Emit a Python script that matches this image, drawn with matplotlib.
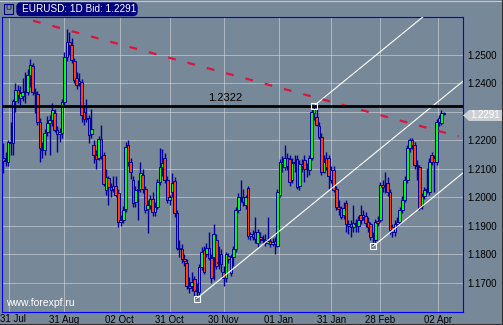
import numpy as np
import pandas as pd
import matplotlib
matplotlib.use("Agg")
import matplotlib.pyplot as plt
from matplotlib.patches import Polygon, Rectangle, FancyBboxPatch
from matplotlib.lines import Line2D

# daily EURUSD bars
opens = [1.2140, 1.2127, 1.2125, 1.2195, 1.2190, 1.2340, 1.2378, 1.2350, 1.2355, 1.2370,
         1.2371, 1.2430, 1.2460, 1.2370, 1.2362, 1.2265, 1.2170, 1.2168, 1.2230, 1.2262,
         1.2270, 1.2295, 1.2237, 1.2222, 1.2225, 1.2336, 1.2494, 1.2545, 1.2535, 1.2478,
         1.2418, 1.2403, 1.2406, 1.2300, 1.2275, 1.2280, 1.2222, 1.2185, 1.2150, 1.2140,
         1.2205, 1.2150, 1.2025, 1.2068, 1.2035, 1.2030, 1.2040, 1.2015, 1.1915, 1.1922,
         1.1960, 1.2185, 1.2125, 1.2062, 1.1985, 1.2025, 1.2030, 1.2080, 1.2030, 1.1960,
         1.1975, 1.1995, 1.1950, 1.1965, 1.2055, 1.2108, 1.2140, 1.2062, 1.1992, 1.2020,
         1.2058, 1.1946, 1.1824, 1.1820, 1.1785, 1.1770, 1.1690, 1.1690, 1.1715, 1.1670,
         1.1668, 1.1757, 1.1815, 1.1800, 1.1824, 1.1789, 1.1790, 1.1850, 1.1775, 1.1800,
         1.1740, 1.1718, 1.1795, 1.1735, 1.1790, 1.1820, 1.1957, 1.2003, 1.2000, 1.1975,
         1.2034, 1.1863, 1.1870, 1.1880, 1.1840, 1.1860, 1.1855, 1.1850, 1.1840, 1.1848,
         1.1838, 1.1848, 1.1830, 1.2010, 1.2125, 1.2105, 1.2140, 1.2135, 1.2060, 1.2120,
         1.2135, 1.2040, 1.2118, 1.2130, 1.2098, 1.2095, 1.2140, 1.2295, 1.2283, 1.2250,
         1.2213, 1.2090, 1.2140, 1.2140, 1.2062, 1.2097, 1.2030, 1.1967, 1.1962, 1.1940,
         1.1980, 1.1905, 1.1908, 1.1895, 1.1910, 1.1900, 1.1940, 1.1932, 1.1935, 1.1915,
         1.1905, 1.1865, 1.1850, 1.1918, 1.1922, 1.2045, 1.2040, 1.2052, 1.2020, 1.1895,
         1.1880, 1.1905, 1.1915, 1.1957, 1.1992, 1.2062, 1.2175, 1.2200, 1.2185, 1.2115,
         1.2105, 1.1970, 1.2005, 1.2025, 1.2020, 1.2150, 1.2140, 1.2125, 1.2266, 1.2262,
         1.2297]
highs = [1.2190, 1.2160, 1.2200, 1.2265, 1.2345, 1.2400, 1.2395, 1.2390, 1.2420, 1.2440,
         1.2450, 1.2487, 1.2470, 1.2385, 1.2375, 1.2280, 1.2195, 1.2240, 1.2285, 1.2290,
         1.2330, 1.2310, 1.2250, 1.2245, 1.2345, 1.2510, 1.2590, 1.2580, 1.2560, 1.2490,
         1.2440, 1.2435, 1.2415, 1.2320, 1.2345, 1.2290, 1.2310, 1.2200, 1.2165, 1.2215,
         1.2255, 1.2160, 1.2100, 1.2075, 1.2050, 1.2075, 1.2075, 1.2030, 1.1940, 1.1970,
         1.2195, 1.2200, 1.2140, 1.2075, 1.2040, 1.2060, 1.2125, 1.2100, 1.2040, 1.1990,
         1.2010, 1.2020, 1.1985, 1.2065, 1.2175, 1.2170, 1.2155, 1.2075, 1.2010, 1.2087,
         1.2070, 1.1955, 1.1850, 1.1835, 1.1800, 1.1785, 1.1720, 1.1740, 1.1725, 1.1700,
         1.1765, 1.1825, 1.1830, 1.1840, 1.1880, 1.1800, 1.1905, 1.1870, 1.1830, 1.1820,
         1.1760, 1.1810, 1.1805, 1.1800, 1.1830, 1.1965, 1.2015, 1.2060, 1.2030, 1.2010,
         1.2040, 1.1880, 1.1885, 1.1932, 1.1890, 1.1880, 1.1868, 1.1870, 1.1932, 1.1860,
         1.1858, 1.1860, 1.2030, 1.2135, 1.2145, 1.2185, 1.2155, 1.2150, 1.2140, 1.2150,
         1.2150, 1.2130, 1.2135, 1.2150, 1.2120, 1.2150, 1.2310, 1.2322, 1.2320, 1.2265,
         1.2225, 1.2150, 1.2160, 1.2150, 1.2110, 1.2110, 1.2040, 1.1990, 1.1970, 1.1985,
         1.1990, 1.1920, 1.1920, 1.1975, 1.1925, 1.1935, 1.1975, 1.1955, 1.1950, 1.1930,
         1.1915, 1.1880, 1.1925, 1.1935, 1.2055, 1.2060, 1.2090, 1.2070, 1.2030, 1.1905,
         1.1920, 1.1930, 1.1965, 1.2005, 1.2075, 1.2185, 1.2210, 1.2210, 1.2195, 1.2130,
         1.2115, 1.2015, 1.2035, 1.2104, 1.2140, 1.2160, 1.2150, 1.2275, 1.2290, 1.2308,
         1.2300]
lows = [1.2085, 1.2110, 1.2110, 1.2150, 1.2150, 1.2300, 1.2330, 1.2325, 1.2340, 1.2330,
        1.2360, 1.2388, 1.2360, 1.2297, 1.2255, 1.2125, 1.2140, 1.2150, 1.2215, 1.2150,
        1.2250, 1.2230, 1.2160, 1.2195, 1.2210, 1.2320, 1.2480, 1.2500, 1.2470, 1.2400,
        1.2380, 1.2390, 1.2265, 1.2255, 1.2265, 1.2190, 1.2210, 1.2120, 1.2100, 1.2130,
        1.2135, 1.2040, 1.2010, 1.1975, 1.2000, 1.2020, 1.2000, 1.1897, 1.1900, 1.1910,
        1.1950, 1.2110, 1.2065, 1.1965, 1.1965, 1.1920, 1.2020, 1.2015, 1.1945, 1.1875,
        1.1960, 1.1935, 1.1935, 1.1960, 1.2045, 1.2075, 1.2050, 1.1980, 1.1975, 1.2000,
        1.1930, 1.1815, 1.1790, 1.1770, 1.1760, 1.1680, 1.1665, 1.1670, 1.1650, 1.1645,
        1.1655, 1.1745, 1.1730, 1.1790, 1.1780, 1.1700, 1.1710, 1.1750, 1.1750, 1.1740,
        1.1690, 1.1705, 1.1770, 1.1725, 1.1760, 1.1810, 1.1945, 1.1985, 1.1970, 1.1960,
        1.1855, 1.1850, 1.1850, 1.1840, 1.1825, 1.1840, 1.1838, 1.1830, 1.1835, 1.1825,
        1.1828, 1.1800, 1.1825, 1.2000, 1.2090, 1.2095, 1.2095, 1.2040, 1.2050, 1.2090,
        1.2030, 1.2025, 1.2090, 1.2055, 1.2070, 1.2080, 1.2130, 1.2270, 1.2250, 1.2205,
        1.2080, 1.2085, 1.2095, 1.2030, 1.2050, 1.2020, 1.1955, 1.1940, 1.1925, 1.1925,
        1.1880, 1.1870, 1.1860, 1.1880, 1.1880, 1.1880, 1.1905, 1.1920, 1.1895, 1.1880,
        1.1850, 1.1828, 1.1840, 1.1900, 1.1915, 1.2020, 1.2015, 1.2005, 1.1870, 1.1860,
        1.1865, 1.1895, 1.1905, 1.1945, 1.1985, 1.2050, 1.2160, 1.2170, 1.2100, 1.2060,
        1.1955, 1.1960, 1.1995, 1.2015, 1.2010, 1.2115, 1.2020, 1.2115, 1.2250, 1.2255,
        1.2288]
closes = [1.2127, 1.2130, 1.2195, 1.2190, 1.2340, 1.2378, 1.2360, 1.2368, 1.2370, 1.2375,
          1.2430, 1.2466, 1.2370, 1.2365, 1.2265, 1.2175, 1.2168, 1.2227, 1.2262, 1.2270,
          1.2305, 1.2237, 1.2222, 1.2230, 1.2336, 1.2494, 1.2545, 1.2535, 1.2483, 1.2413,
          1.2395, 1.2410, 1.2290, 1.2275, 1.2280, 1.2220, 1.2240, 1.2150, 1.2135, 1.2205,
          1.2145, 1.2046, 1.2070, 1.2035, 1.2027, 1.2040, 1.2010, 1.1915, 1.1922, 1.1957,
          1.2178, 1.2125, 1.2090, 1.1980, 1.2025, 1.2030, 1.2085, 1.2030, 1.1957, 1.1975,
          1.1995, 1.1950, 1.1965, 1.2055, 1.2108, 1.2120, 1.2062, 1.1992, 1.2000, 1.2050,
          1.1946, 1.1824, 1.1818, 1.1785, 1.1776, 1.1690, 1.1682, 1.1705, 1.1670, 1.1675,
          1.1757, 1.1810, 1.1740, 1.1822, 1.1789, 1.1718, 1.1870, 1.1761, 1.1770, 1.1765,
          1.1718, 1.1800, 1.1785, 1.1790, 1.1820, 1.1957, 1.2003, 1.2000, 1.1985, 1.2000,
          1.1863, 1.1870, 1.1862, 1.1855, 1.1880, 1.1855, 1.1850, 1.1845, 1.1848, 1.1838,
          1.1845, 1.1835, 1.2020, 1.2125, 1.2118, 1.2140, 1.2110, 1.2055, 1.2120, 1.2125,
          1.2035, 1.2118, 1.2110, 1.2098, 1.2100, 1.2140, 1.2301, 1.2310, 1.2255, 1.2213,
          1.2090, 1.2125, 1.2105, 1.2075, 1.2097, 1.2027, 1.1967, 1.1960, 1.1932, 1.1962,
          1.1905, 1.1900, 1.1895, 1.1910, 1.1905, 1.1920, 1.1922, 1.1940, 1.1910, 1.1895,
          1.1860, 1.1860, 1.1915, 1.1912, 1.2045, 1.2038, 1.2040, 1.2020, 1.1885, 1.1880,
          1.1905, 1.1915, 1.1957, 1.1992, 1.2062, 1.2175, 1.2200, 1.2185, 1.2115, 1.2110,
          1.1964, 1.2005, 1.2025, 1.2030, 1.2125, 1.2125, 1.2125, 1.2266, 1.2280, 1.2297,
          1.2291]

first_day = "2005-07-27"
tick_dates = ["2005-07-31", "2005-08-31", "2005-10-02", "2005-10-31", "2005-11-30",
              "2006-01-01", "2006-01-31", "2006-02-28", "2006-04-02"]
tick_labels = ["31 Jul", "31 Aug", "02 Oct", "31 Oct", "30 Nov",
               "01 Jan", "31 Jan", "28 Feb", "02 Apr"]
price_ticks = [1.17, 1.18, 1.19, 1.20, 1.21, 1.22, 1.23, 1.24, 1.25]
price_labels = ["1.1700", "1.1800", "1.1900", "1.2000", "1.2100", "1.2200", "", "1.2400", "1.2500"]
hline_price = 1.2322
last_bid = 1.2291
trend_idx = [12.2, 186]          # red dashed trend line (bar index, price)
trend_price = [1.2620, 1.2214]
channel_slope = 0.000701         # price per bar of the white channel lines

W, H = 503, 325
BG = "#778899"
WICK = "#00009c"

o, h, l, c = map(np.array, (opens, highs, lows, closes))
n = len(c)
x = np.arange(n)
dates = pd.bdate_range(first_day, periods=n)

plt.rcParams["font.family"] = ["Liberation Sans", "DejaVu Sans"]
fig = plt.figure(figsize=(W / 100, H / 100), dpi=100, facecolor=BG)
ax = fig.add_axes([2 / W, 1 - 312 / H, 461 / W, 295 / H], facecolor=BG)

xmax = 187.8
ax.set_xlim(-0.5, xmax)
ax.set_ylim(1.1598, 1.2633)

# grid
ax.grid(True, color="#e4e4e4", linestyle=(0, (1, 1)), linewidth=0.72, zorder=0)

# candles
body_col = np.where(c >= o, "#00ff00", "#ff4000")
ax.vlines(x, l, h, color=WICK, linewidth=1.0, zorder=2)
ax.bar(x, np.abs(c - o), bottom=np.minimum(o, c), width=1.1, color=body_col,
       edgecolor=WICK, linewidth=0.7, zorder=3)

# channel lines (anchored on the Nov low, the Jan high and the Feb low)
i_low = int(np.argmin(l))
i_high = 100 + int(np.argmax(h[100:]))
i_feb = 140 + int(np.argmin(l[140:]))
for i0, p0 in [(i_low, l[i_low]), (i_feb, l[i_feb]), (i_high, h[i_high])]:
    xs = np.array([i0, xmax])
    ax.plot(xs, p0 + channel_slope * (xs - i0), color="white", linewidth=0.8, zorder=4)
    ax.plot(i0, p0, marker="s", markersize=4, mfc="none", mec="white", mew=0.8, zorder=6)

# red dashed trend line
ax.plot(trend_idx, trend_price, color="#dc143c", linewidth=1.6, dashes=(3.5, 5.5), zorder=5)

# horizontal line at the Jan high
ax.axhline(hline_price, color="black", linewidth=2, zorder=5)
ax.annotate(f"{hline_price:.4f}", xy=(0.484, hline_price), xycoords=("axes fraction", "data"),
            xytext=(0, 2), textcoords="offset points", ha="center", va="bottom",
            fontsize=8, color="black")

# axes
tick_pos = []
for d in tick_dates:
    k = dates.searchsorted(pd.Timestamp(d))
    tick_pos.append(k if dates[k] == pd.Timestamp(d) else k - 0.5)
ax.set_xticks(tick_pos)
# the first label would run off the left edge, so it is placed by hand below
ax.set_xticklabels([""] + tick_labels[1:], fontsize=7)
ax.set_yticks(price_ticks)
ax.set_yticklabels(price_labels, fontsize=7)
ax.yaxis.tick_right()
ax.tick_params(axis="both", length=0, colors="black")
ax.tick_params(axis="y", pad=3)
ax.tick_params(axis="x", pad=2)
for s in ax.spines.values():
    s.set_color("#0000ff")
    s.set_linewidth(0.8)


def fx(px):
    return px / W


def fy(py):
    return 1 - py / H


fig.text(fx(0.5), fy(314.5), tick_labels[0], fontsize=7, color="black", ha="left", va="top")

# last price tag
tag = Polygon([(fx(463), fy(115.5)), (fx(469), fy(110)), (fx(503), fy(110)),
               (fx(503), fy(121)), (fx(469), fy(121))], closed=True,
              transform=fig.transFigure, facecolor="#cdd1d6", edgecolor="none")
fig.add_artist(tag)
fig.text(fx(470), fy(115.5), f"{last_bid:.4f}", color="white", fontsize=7,
         ha="left", va="center")

# title box
box = FancyBboxPatch((fx(17), fy(15.5)), fx(120), 12.5 / H,
                     boxstyle="round,pad=0,rounding_size=0.008", mutation_aspect=W / H,
                     transform=fig.transFigure, facecolor="#000080", edgecolor="#000080")
fig.add_artist(box)
fig.text(fx(22), fy(9.3), f"EURUSD: 1D Bid: {last_bid:.4f}", color="white",
         fontsize=7.2, ha="left", va="center")
fig.add_artist(Rectangle((fx(4), fy(14)), fx(9), 10 / H, transform=fig.transFigure,
                         facecolor="none", edgecolor="#000080", linewidth=0.8))
fig.text(fx(8.5), fy(9), "U", color="#000080", fontsize=6, ha="center", va="center")

# watermark
fig.text(fx(6), fy(303), "www.forexpf.ru", color="white", fontsize=7.5,
         ha="left", va="center")

# window frame edges
fig.add_artist(Line2D([0, 1], [fy(0.5), fy(0.5)], transform=fig.transFigure,
                      color="#c8c8c8", linewidth=0.8))
fig.add_artist(Line2D([0, 1], [fy(323.5), fy(323.5)], transform=fig.transFigure,
                      color="#303030", linewidth=0.8))
fig.add_artist(Line2D([fx(501.5), fx(501.5)], [0, 1], transform=fig.transFigure,
                      color="#303030", linewidth=0.8))

fig.savefig("out.png", dpi=100, facecolor=BG)
